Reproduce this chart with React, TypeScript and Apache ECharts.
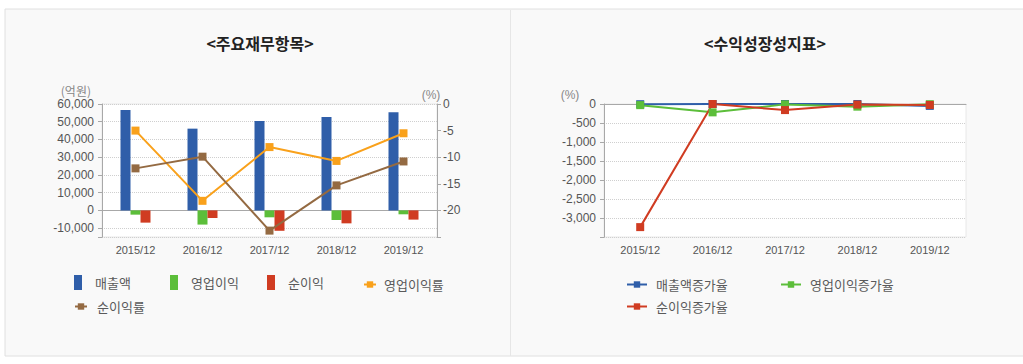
import React, { useEffect, useRef } from 'react';
import * as echarts from 'echarts';

const categories = ['2015/12', '2016/12', '2017/12', '2018/12', '2019/12'];
// 주요재무항목 (억원 / %)
const sales = [56600, 46100, 50400, 52600, 55400];
const operatingProfit = [-2400, -8000, -3900, -5400, -2200];
const netProfit = [-6900, -4300, -11500, -7300, -5200];
const operatingMargin = [-5.0, -18.2, -8.1, -10.7, -5.5];
const netMargin = [-12.1, -9.9, -23.8, -15.3, -10.8];
// 수익성장성지표 (%)
const salesGrowth = [-5, 0, 0, 0, -50];
const operatingGrowth = [-30, -220, -10, -70, -5];
const netGrowth = [-3240, 0, -160, -15, -25];

const leftTicksHidden = [-15000];
const rightTicksHidden = [-25];
const growthHidden = [-3500];

const C_BLUE = '#2f5ea9';
const C_GREEN = '#5cbe3a';
const C_RED = '#d03c22';
const C_ORANGE = '#f9a11b';
const C_BROWN = '#946a42';

const NUM_FONT = 'Liberation Sans, Arial, sans-serif';
const KR_FONT = 'Noto Sans CJK KR, sans-serif';

export default function App() {
  const ref = useRef<HTMLDivElement>(null);

  useEffect(() => {
    if (!ref.current) return;
    const chart = echarts.init(ref.current, undefined, { renderer: 'svg' });

    const axisLineStyle = { color: '#a8a8a8', width: 1 };
    const labelStyle = { color: '#555', fontSize: 11, fontFamily: NUM_FONT };
    const splitStyle = { type: 'dotted', color: '#cfcfcf', width: 1 };

    const fmt = (hidden: number[]) => (v: number) =>
      hidden.indexOf(v) >= 0 ? '' : v.toLocaleString('en-US');

    const barLegend = (name: string, left: number, top: number) => ({
      data: [name],
      left,
      top,
      padding: 0,
      icon: 'rect',
      itemWidth: 8,
      itemHeight: 15,
      selectedMode: false,
      textStyle: { color: '#5a5a5a', fontSize: 13, fontFamily: KR_FONT, padding: [0, 0, 0, 8] },
    });
    const lineLegend = (name: string, left: number, top: number, w: number, pad: number) => ({
      data: [name],
      left,
      top,
      padding: 0,
      itemWidth: w,
      itemHeight: 8,
      selectedMode: false,
      textStyle: { color: '#5a5a5a', fontSize: 13, fontFamily: KR_FONT, padding: [0, 0, 0, pad] },
    });

    const lineSeries = (name: string, data: number[], color: string, xi: number, yi: number) => ({
      name,
      type: 'line',
      xAxisIndex: xi,
      yAxisIndex: yi,
      data,
      symbol: 'rect',
      symbolSize: 8,
      lineStyle: { color, width: 2 },
      itemStyle: { color },
      z: 5,
    });

    chart.setOption({
      animation: false,
      backgroundColor: '#ffffff',
      graphic: [
        {
          type: 'rect',
          z: -10,
          shape: { x: 5, y: 9, width: 1020, height: 347 },
          style: { fill: '#f9f9f9', stroke: '#e0e0e0', lineWidth: 1 },
        },
        {
          type: 'line',
          z: -9,
          shape: { x1: 510.5, y1: 10, x2: 510.5, y2: 356 },
          style: { stroke: '#e6e6e6', lineWidth: 1 },
        },
        {
          type: 'text',
          x: 260,
          y: 43,
          style: {
            text: '<주요재무항목>',
            fill: '#222',
            fontSize: 16,
            fontWeight: 'bold',
            fontFamily: KR_FONT,
            align: 'center',
            verticalAlign: 'middle',
          },
        },
        {
          type: 'text',
          x: 765,
          y: 43,
          style: {
            text: '<수익성장성지표>',
            fill: '#222',
            fontSize: 16,
            fontWeight: 'bold',
            fontFamily: KR_FONT,
            align: 'center',
            verticalAlign: 'middle',
          },
        },
        {
          type: 'text',
          x: 91,
          y: 90,
          style: { text: '(억원)', fill: '#888', fontSize: 12, fontFamily: KR_FONT, align: 'right', verticalAlign: 'middle' },
        },
        {
          type: 'text',
          x: 431,
          y: 95,
          style: { text: '(%)', fill: '#888', fontSize: 12, fontFamily: NUM_FONT, align: 'center', verticalAlign: 'middle' },
        },
        {
          type: 'text',
          x: 570,
          y: 95,
          style: { text: '(%)', fill: '#888', fontSize: 12, fontFamily: NUM_FONT, align: 'center', verticalAlign: 'middle' },
        },
      ],
      grid: [
        {
          left: 102,
          top: 104,
          width: 335,
          height: 133,
          show: true,
          backgroundColor: '#ffffff',
          borderColor: '#e8e8e8',
          borderWidth: 1,
        },
        {
          left: 604,
          top: 104,
          width: 362,
          height: 133,
          show: true,
          backgroundColor: '#ffffff',
          borderColor: '#e8e8e8',
          borderWidth: 1,
        },
      ],
      xAxis: [0, 1].map((gi) => ({
        type: 'category',
        gridIndex: gi,
        data: categories,
        boundaryGap: true,
        axisLine: { lineStyle: axisLineStyle },
        axisTick: { alignWithLabel: true, length: 4, lineStyle: axisLineStyle },
        axisLabel: { ...labelStyle, margin: 7 },
        splitLine: { show: false },
      })),
      yAxis: [
        {
          type: 'value',
          gridIndex: 0,
          position: 'left',
          min: -15000,
          max: 60000,
          splitNumber: 7,
          axisLine: { show: true, lineStyle: axisLineStyle },
          axisTick: { show: true, length: 4, lineStyle: axisLineStyle },
          axisLabel: { ...labelStyle, fontSize: 12, margin: 8, formatter: fmt(leftTicksHidden) },
          splitLine: { show: true, lineStyle: splitStyle },
        },
        {
          type: 'value',
          gridIndex: 0,
          position: 'right',
          min: -25,
          max: 0,
          interval: 5,
          axisLine: { show: true, lineStyle: axisLineStyle },
          axisTick: { show: true, length: 4, lineStyle: axisLineStyle },
          axisLabel: { ...labelStyle, fontSize: 12, margin: 6, formatter: fmt(rightTicksHidden) },
          splitLine: { show: false },
        },
        {
          type: 'value',
          gridIndex: 1,
          position: 'left',
          min: -3500,
          max: 0,
          interval: 500,
          axisLine: { show: true, lineStyle: axisLineStyle },
          axisTick: { show: true, length: 4, lineStyle: axisLineStyle },
          axisLabel: { ...labelStyle, fontSize: 12, margin: 8, formatter: fmt(growthHidden) },
          splitLine: { show: true, lineStyle: splitStyle },
        },
      ],
      legend: [
        barLegend('매출액', 74, 275),
        barLegend('영업이익', 170, 275),
        barLegend('순이익', 267, 275),
        lineLegend('영업이익률', 363, 278, 12, 3),
        lineLegend('순이익률', 74, 300, 12, 5),
        lineLegend('매출액증가율', 626, 278, 20, 4),
        lineLegend('영업이익증가율', 780, 278, 20, 4),
        lineLegend('순이익증가율', 626, 300, 20, 4),
      ],
      series: [
        { name: '매출액', type: 'bar', xAxisIndex: 0, yAxisIndex: 0, data: sales, barWidth: 10, barGap: '0%', itemStyle: { color: C_BLUE } },
        { name: '영업이익', type: 'bar', xAxisIndex: 0, yAxisIndex: 0, data: operatingProfit, barWidth: 10, barGap: '0%', itemStyle: { color: C_GREEN } },
        { name: '순이익', type: 'bar', xAxisIndex: 0, yAxisIndex: 0, data: netProfit, barWidth: 10, barGap: '0%', itemStyle: { color: C_RED } },
        lineSeries('영업이익률', operatingMargin, C_ORANGE, 0, 1),
        lineSeries('순이익률', netMargin, C_BROWN, 0, 1),
        lineSeries('매출액증가율', salesGrowth, C_BLUE, 1, 2),
        lineSeries('영업이익증가율', operatingGrowth, C_GREEN, 1, 2),
        lineSeries('순이익증가율', netGrowth, C_RED, 1, 2),
      ],
    });

    return () => chart.dispose();
  }, []);

  return (
    <div
      ref={ref}
      style={{ position: 'absolute', left: 0, top: 0, width: 1023, height: 364 }}
    />
  );
}
